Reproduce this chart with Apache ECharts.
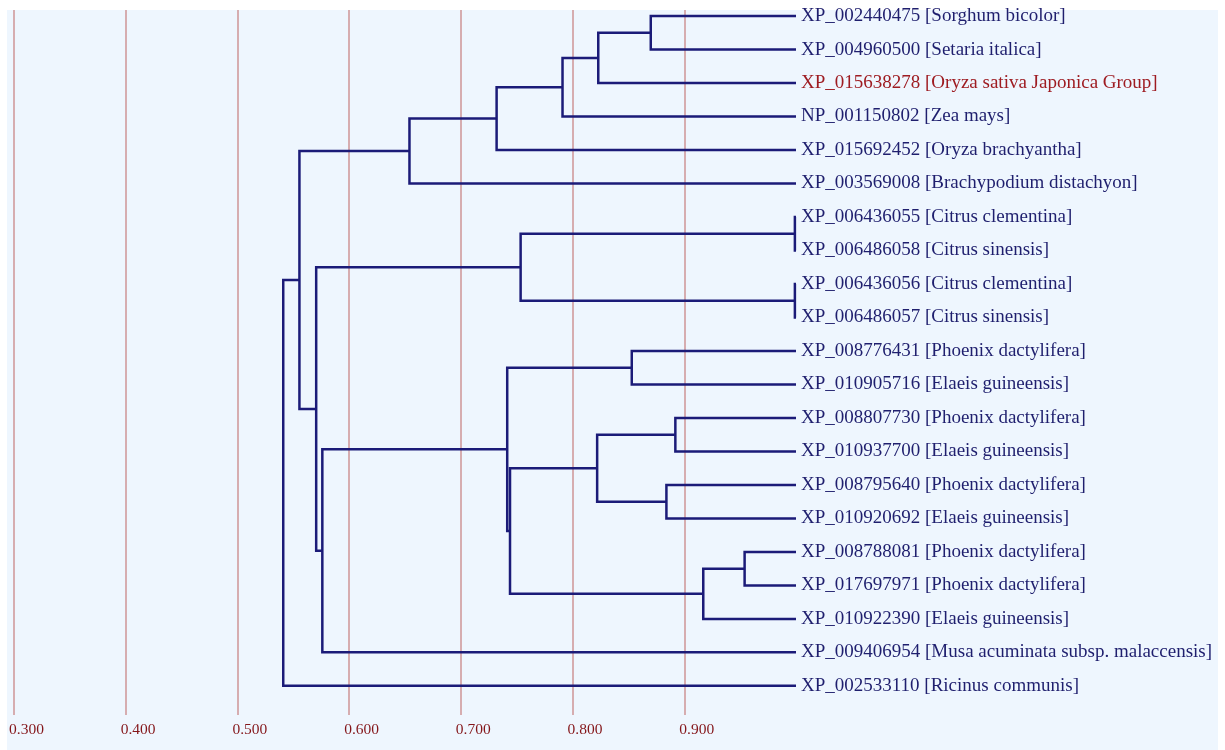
<!DOCTYPE html>
<html lang="en">
<head>
    <meta charset="UTF-8">
    <title>Tree</title>
    <script src="https://cdn.jsdelivr.net/npm/echarts@6/dist/echarts.min.js"></script>
    <style>
        html, body { margin: 0; padding: 0; background: #fff; }
        #tree { width: 1225px; height: 750px; }
    </style>
</head>
<body>
<div id="tree"></div>
<script type="text/javascript">
    // leaf names, top to bottom
    var leafNames = [
        'XP_002440475 [Sorghum bicolor]',
        'XP_004960500 [Setaria italica]',
        'XP_015638278 [Oryza sativa Japonica Group]',
        'NP_001150802 [Zea mays]',
        'XP_015692452 [Oryza brachyantha]',
        'XP_003569008 [Brachypodium distachyon]',
        'XP_006436055 [Citrus clementina]',
        'XP_006486058 [Citrus sinensis]',
        'XP_006436056 [Citrus clementina]',
        'XP_006486057 [Citrus sinensis]',
        'XP_008776431 [Phoenix dactylifera]',
        'XP_010905716 [Elaeis guineensis]',
        'XP_008807730 [Phoenix dactylifera]',
        'XP_010937700 [Elaeis guineensis]',
        'XP_008795640 [Phoenix dactylifera]',
        'XP_010920692 [Elaeis guineensis]',
        'XP_008788081 [Phoenix dactylifera]',
        'XP_017697971 [Phoenix dactylifera]',
        'XP_010922390 [Elaeis guineensis]',
        'XP_009406954 [Musa acuminata subsp. malaccensis]',
        'XP_002533110 [Ricinus communis]'
    ];
    var highlightLeaf = 2;
    var leafHeight = 1.0;

    // joins: [child a, child b, height]; leaves are 0..20, new nodes get 21, 22, ...
    var merges = [
        [0, 1, 0.870],
        [21, 2, 0.823],
        [22, 3, 0.791],
        [23, 4, 0.732],
        [24, 5, 0.654],
        [6, 7, 0.999],
        [8, 9, 0.999],
        [26, 27, 0.7535],
        [10, 11, 0.853],
        [12, 13, 0.892],
        [14, 15, 0.884],
        [30, 31, 0.822],
        [16, 17, 0.954],
        [33, 18, 0.917],
        [32, 34, 0.744],
        [29, 35, 0.7415],
        [36, 19, 0.576],
        [28, 37, 0.5705],
        [25, 38, 0.5555],
        [39, 20, 0.541]
    ];

    var tickMin = 0.3, tickMax = 1.0, tickStep = 0.1;

    // node positions
    var nodeX = [], nodeY = [];
    leafNames.forEach(function (n, i) {
        nodeX.push(leafHeight);
        nodeY.push(i);
    });
    var branches = [];
    merges.forEach(function (m) {
        var a = m[0], b = m[1], h = m[2];
        branches.push({
            coords: [
                [nodeX[a], nodeY[a]],
                [h, nodeY[a]],
                [h, nodeY[b]],
                [nodeX[b], nodeY[b]]
            ]
        });
        nodeX.push(h);
        nodeY.push((nodeY[a] + nodeY[b]) / 2);
    });

    var leafPoints = leafNames.map(function (n, i) {
        return {
            value: [leafHeight, i],
            label: { color: i === highlightLeaf ? '#9e1c22' : '#1f1f6e' }
        };
    });

    var chart = echarts.init(document.getElementById('tree'));
    var option = {
        backgroundColor: '#fff',
        animation: false,
        graphic: [{
            type: 'rect',
            z: -10,
            shape: { x: 7, y: 10, width: 1211, height: 740 },
            style: { fill: '#eef6fe' }
        }],
        grid: { left: 14, right: 429, top: 10, bottom: 35 },
        xAxis: {
            type: 'value',
            min: tickMin,
            max: tickMax,
            interval: tickStep,
            axisLine: { show: false },
            axisTick: { show: false },
            splitLine: {
                show: true,
                showMinLine: true,
                showMaxLine: false,
                lineStyle: { color: '#d6adb0', width: 2 }
            },
            axisLabel: {
                showMaxLabel: false,
                formatter: function (v) { return v.toFixed(3); },
                color: '#84161a',
                fontFamily: 'Liberation Serif',
                fontSize: 15.5,
                align: 'left',
                padding: [0, 0, 0, -5],
                margin: 7
            }
        },
        yAxis: {
            type: 'value',
            inverse: true,
            min: -0.18,
            max: 20.87,
            show: false
        },
        series: [
            {
                type: 'lines',
                coordinateSystem: 'cartesian2d',
                polyline: true,
                silent: true,
                lineStyle: { color: '#1b1b78', width: 2.5, opacity: 1 },
                data: branches
            },
            {
                type: 'scatter',
                symbolSize: 0,
                silent: true,
                itemStyle: { opacity: 1 },
                data: leafPoints,
                label: {
                    show: true,
                    position: 'right',
                    distance: 5,
                    opacity: 1,
                    fontFamily: 'Liberation Serif',
                    fontSize: 19,
                    formatter: function (p) { return leafNames[p.dataIndex]; }
                }
            }
        ]
    };
    chart.setOption(option);
</script>
</body>
</html>
